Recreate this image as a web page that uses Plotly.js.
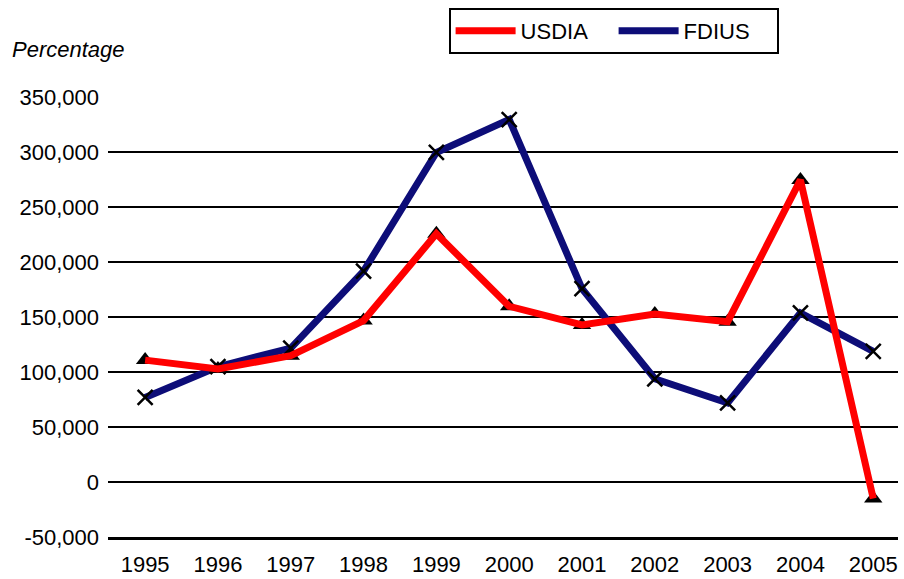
<!DOCTYPE html>
<html>
<head>
<meta charset="utf-8">
<script src="https://cdn.plot.ly/plotly-3.0.1.min.js"></script>
<style>html,body{margin:0;padding:0;background:#fff;}#chart{width:904px;height:579px;}</style>
</head>
<body>
<div id="chart"></div>
<script>
const years = [1995, 1996, 1997, 1998, 1999, 2000, 2001, 2002, 2003, 2004, 2005];
const yearLabels = ['1995','1996','1997','1998','1999','2000','2001','2002','2003','2004','2005'];
const usdia = [111000, 103000, 115000, 147000, 226000, 160000, 143000, 153000, 146000, 275000, -15000];
const fdius = [77000, 105000, 122000, 192000, 300000, 330000, 176000, 94000, 72000, 154000, 119000];
const yTickVals = [-50000, 0, 50000, 100000, 150000, 200000, 250000, 300000, 350000];
const yTickText = ['-50,000', '0', '50,000', '100,000', '150,000', '200,000', '250,000', '300,000', '350,000'];

const RED = '#ff0000';
const NAVY = '#0d0d78';
const FONT = '"Liberation Sans", Arial, Helvetica, sans-serif';

const traces = [
  {x: years, y: fdius, type: 'scatter', mode: 'lines', name: 'FDIUS',
   line: {color: NAVY, width: 7}, legendrank: 2},
  {x: years, y: fdius, type: 'scatter', mode: 'markers', showlegend: false, hoverinfo: 'skip',
   marker: {symbol: 'x-thin', size: 15, color: '#000', line: {color: '#000', width: 2.5}}},
  {x: years, y: usdia, type: 'scatter', mode: 'markers', showlegend: false, hoverinfo: 'skip',
   marker: {symbol: 'triangle-up', size: 16, color: '#000'}},
  {x: years, y: usdia, type: 'scatter', mode: 'lines', name: 'USDIA',
   line: {color: RED, width: 7}, legendrank: 1}
];

const layout = {
  width: 904, height: 579,
  margin: {l: 108, r: 6, t: 97, b: 42},
  paper_bgcolor: '#fff', plot_bgcolor: '#fff',
  font: {family: FONT, size: 22, color: '#000'},
  showlegend: true,
  legend: {
    orientation: 'h', x: 0.640, xanchor: 'center', y: 1.15, yanchor: 'middle',
    bordercolor: '#000', borderwidth: 2, bgcolor: '#fff', itemwidth: 60,
    entrywidth: 88, entrywidthmode: 'pixels',
    font: {family: FONT, size: 22, color: '#000'}
  },
  xaxis: {
    type: 'linear', range: [1994.49, 2005.34],
    tickvals: years, ticktext: yearLabels,
    showgrid: false, zeroline: false, showline: true, linecolor: '#000', linewidth: 3,
    ticks: '', ticklabelstandoff: 6,
    tickfont: {family: FONT, size: 22, color: '#000'}
  },
  yaxis: {
    range: [-50000, 350500],
    tickvals: yTickVals, ticktext: yTickText,
    showgrid: true, gridcolor: '#000', gridwidth: 2,
    zeroline: false, showline: false, ticks: '', ticklabelstandoff: 8,
    tickfont: {family: FONT, size: 22, color: '#000'}
  },
  annotations: [
    {text: '<i>Percentage</i>', xref: 'paper', yref: 'paper', x: -0.124, y: 1.108,
     xanchor: 'left', yanchor: 'middle', showarrow: false,
     font: {family: FONT, size: 22, color: '#000'}}
  ]
};

Plotly.newPlot('chart', traces, layout, {staticPlot: true});
</script>
</body>
</html>
